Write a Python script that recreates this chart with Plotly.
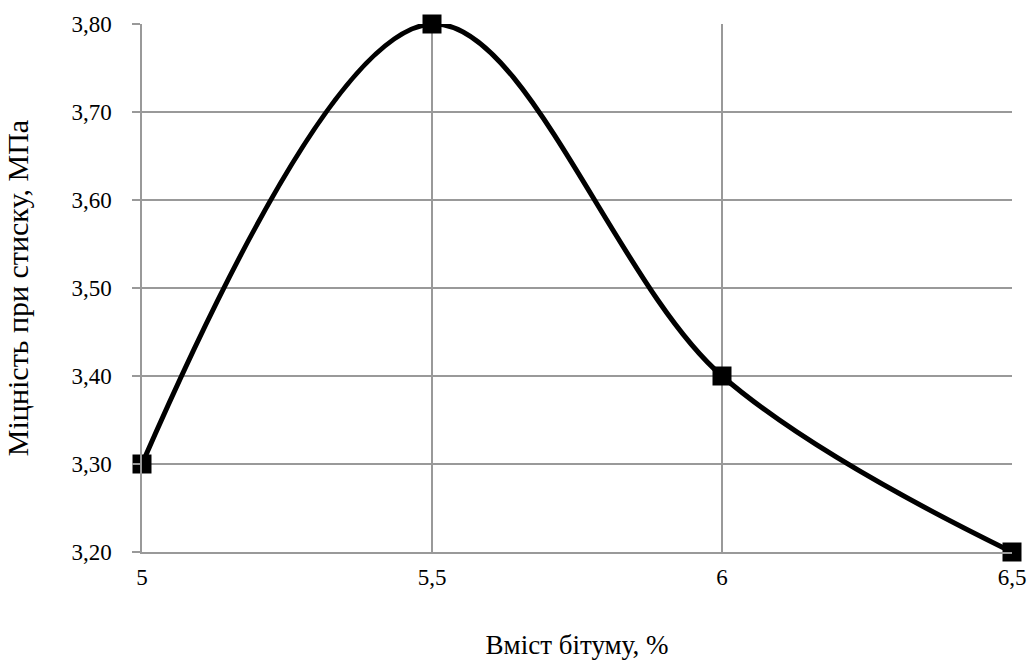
import plotly.graph_objects as go

# Bitumen content (%) vs compressive strength (MPa)
bitumen = [5.0, 5.5, 6.0, 6.5]
strength = [3.30, 3.80, 3.40, 3.20]

y_ticks = [3.20, 3.30, 3.40, 3.50, 3.60, 3.70, 3.80]
y_labels = [f"{v:.2f}".replace(".", ",") for v in y_ticks]
x_ticks = [5.0, 5.5, 6.0, 6.5]
x_labels = ["5", "5,5", "6", "6,5"]

font_family = "Liberation Serif"
grid = "#999999"

fig = go.Figure(
    go.Scatter(
        x=bitumen,
        y=strength,
        mode="lines+markers",
        line=dict(color="black", width=5, shape="spline", smoothing=1.0),
        marker=dict(symbol="square", size=19, color="black"),
        cliponaxis=False,
    )
)

fig.update_layout(
    width=1028,
    height=661,
    margin=dict(l=142, r=16, t=24, b=109),
    plot_bgcolor="white",
    paper_bgcolor="white",
    showlegend=False,
    font=dict(family=font_family, color="black", size=23),
)

fig.update_xaxes(
    range=[5.0, 6.5],
    tickvals=x_ticks,
    ticktext=x_labels,
    showgrid=True,
    gridcolor=grid,
    gridwidth=1.5,
    showline=True,
    linecolor=grid,
    linewidth=1.5,
    zeroline=False,
    ticks="",
    ticklabelstandoff=4,
    automargin=False,
    title=dict(text="Вміст бітуму, %", font=dict(size=27), standoff=46),
)

fig.update_yaxes(
    range=[3.20, 3.80],
    tickvals=y_ticks,
    ticktext=y_labels,
    showgrid=True,
    gridcolor=grid,
    gridwidth=1.5,
    showline=True,
    linecolor=grid,
    linewidth=1.5,
    zeroline=False,
    ticks="outside",
    ticklen=8,
    tickwidth=1.5,
    tickcolor=grid,
    ticklabelstandoff=16,
    automargin=False,
    title=dict(text="Міцність при стиску, МПа", font=dict(size=30), standoff=34),
)

fig.write_html("out.html")
